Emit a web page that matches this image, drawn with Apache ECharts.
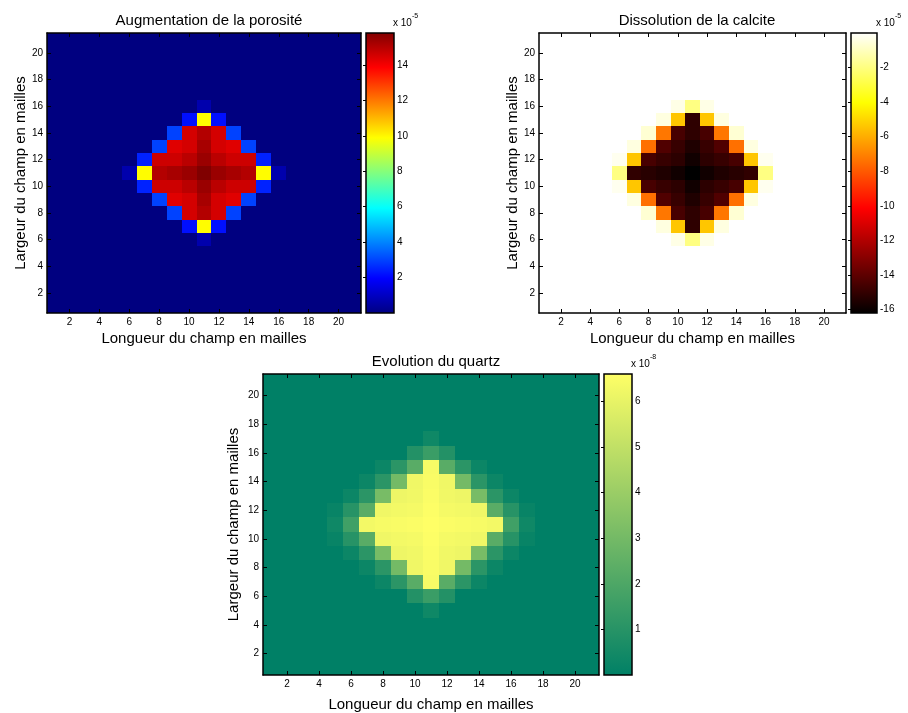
<!DOCTYPE html>
<html>
<head>
<meta charset="utf-8">
<script src="https://cdn.jsdelivr.net/npm/echarts@6/dist/echarts.min.js"></script>
<style>
html,body{margin:0;padding:0;background:#fff;}
#chart{width:908px;height:713px;}
</style>
</head>
<body>
<div id="chart"></div>
<script>
// ---------- data ----------
const cellLabels = ['1','2','3','4','5','6','7','8','9','10','11','12','13','14','15','16','17','18','19','20','21'];

// Augmentation de la porosité (x 1e-5), rows from y=21 (top) to y=1 (bottom)
const porosityRows = [
 [0,0,0,0,0,0,0,0,0,0,0,0,0,0,0,0,0,0,0,0,0],
 [0,0,0,0,0,0,0,0,0,0,0,0,0,0,0,0,0,0,0,0,0],
 [0,0,0,0,0,0,0,0,0,0,0,0,0,0,0,0,0,0,0,0,0],
 [0,0,0,0,0,0,0,0,0,0,0,0,0,0,0,0,0,0,0,0,0],
 [0,0,0,0,0,0,0,0,0,0,0,0,0,0,0,0,0,0,0,0,0],
 [0,0,0,0,0,0,0,0,0,0,0.7,0,0,0,0,0,0,0,0,0,0],
 [0,0,0,0,0,0,0,0,0,2.2,9.9,2.2,0,0,0,0,0,0,0,0,0],
 [0,0,0,0,0,0,0,0,3.0,14.5,15.0,14.5,3.0,0,0,0,0,0,0,0,0],
 [0,0,0,0,0,0,0,3.0,14.3,14.5,15.2,14.5,14.3,3.0,0,0,0,0,0,0,0],
 [0,0,0,0,0,0,2.5,14.6,14.6,14.9,15.4,14.9,14.6,14.6,2.5,0,0,0,0,0,0],
 [0,0,0,0,0,0.7,9.9,15.0,15.2,15.4,15.8,15.4,15.2,15.0,9.9,0.7,0,0,0,0,0],
 [0,0,0,0,0,0,2.5,14.6,14.6,14.9,15.4,14.9,14.6,14.6,2.5,0,0,0,0,0,0],
 [0,0,0,0,0,0,0,3.0,14.3,14.5,15.2,14.5,14.3,3.0,0,0,0,0,0,0,0],
 [0,0,0,0,0,0,0,0,3.0,14.5,15.0,14.5,3.0,0,0,0,0,0,0,0,0],
 [0,0,0,0,0,0,0,0,0,2.2,9.9,2.2,0,0,0,0,0,0,0,0,0],
 [0,0,0,0,0,0,0,0,0,0,0.7,0,0,0,0,0,0,0,0,0,0],
 [0,0,0,0,0,0,0,0,0,0,0,0,0,0,0,0,0,0,0,0,0],
 [0,0,0,0,0,0,0,0,0,0,0,0,0,0,0,0,0,0,0,0,0],
 [0,0,0,0,0,0,0,0,0,0,0,0,0,0,0,0,0,0,0,0,0],
 [0,0,0,0,0,0,0,0,0,0,0,0,0,0,0,0,0,0,0,0,0],
 [0,0,0,0,0,0,0,0,0,0,0,0,0,0,0,0,0,0,0,0,0]
];

// Dissolution de la calcite (x 1e-5)
const calciteRows = [
 [0,0,0,0,0,0,0,0,0,0,0,0,0,0,0,0,0,0,0,0,0],
 [0,0,0,0,0,0,0,0,0,0,0,0,0,0,0,0,0,0,0,0,0],
 [0,0,0,0,0,0,0,0,0,0,0,0,0,0,0,0,0,0,0,0,0],
 [0,0,0,0,0,0,0,0,0,0,0,0,0,0,0,0,0,0,0,0,0],
 [0,0,0,0,0,0,0,0,0,0,0,0,0,0,0,0,0,0,0,0,0],
 [0,0,0,0,0,0,0,0,0,-0.4,-2.0,-0.4,0,0,0,0,0,0,0,0,0],
 [0,0,0,0,0,0,0,0,-0.5,-5.4,-15.1,-5.4,-0.5,0,0,0,0,0,0,0,0],
 [0,0,0,0,0,0,0,-0.7,-7.3,-14.5,-15.1,-14.5,-7.3,-0.7,0,0,0,0,0,0,0],
 [0,0,0,0,0,0,-0.5,-7.45,-14.3,-14.9,-15.45,-14.9,-14.3,-7.45,-0.5,0,0,0,0,0,0],
 [0,0,0,0,0,-0.25,-5.4,-14.5,-14.9,-15.15,-15.8,-15.15,-14.9,-14.5,-5.4,-0.25,0,0,0,0,0],
 [0,0,0,0,0,-2.0,-15.05,-15.25,-15.45,-15.8,-16.2,-15.8,-15.45,-15.25,-15.05,-2.0,0,0,0,0,0],
 [0,0,0,0,0,-0.25,-5.4,-14.5,-14.9,-15.15,-15.8,-15.15,-14.9,-14.5,-5.4,-0.25,0,0,0,0,0],
 [0,0,0,0,0,0,-0.5,-7.45,-14.3,-14.9,-15.45,-14.9,-14.3,-7.45,-0.5,0,0,0,0,0,0],
 [0,0,0,0,0,0,0,-0.7,-7.3,-14.5,-15.1,-14.5,-7.3,-0.7,0,0,0,0,0,0,0],
 [0,0,0,0,0,0,0,0,-0.5,-5.4,-15.1,-5.4,-0.5,0,0,0,0,0,0,0,0],
 [0,0,0,0,0,0,0,0,0,-0.4,-2.0,-0.4,0,0,0,0,0,0,0,0,0],
 [0,0,0,0,0,0,0,0,0,0,0,0,0,0,0,0,0,0,0,0,0],
 [0,0,0,0,0,0,0,0,0,0,0,0,0,0,0,0,0,0,0,0,0],
 [0,0,0,0,0,0,0,0,0,0,0,0,0,0,0,0,0,0,0,0,0],
 [0,0,0,0,0,0,0,0,0,0,0,0,0,0,0,0,0,0,0,0,0],
 [0,0,0,0,0,0,0,0,0,0,0,0,0,0,0,0,0,0,0,0,0]
];

// Evolution du quartz (x 1e-8)
const quartzRows = [
 [0,0,0,0,0,0,0,0,0,0,0,0,0,0,0,0,0,0,0,0,0],
 [0,0,0,0,0,0,0,0,0,0,0,0,0,0,0,0,0,0,0,0,0],
 [0,0,0,0,0,0,0,0,0,0,0,0,0,0,0,0,0,0,0,0,0],
 [0,0,0,0,0,0,0,0,0,0,0,0,0,0,0,0,0,0,0,0,0],
 [0,0,0,0,0,0,0,0,0,0,0.4,0,0,0,0,0,0,0,0,0,0],
 [0,0,0,0,0,0,0,0,0,0.9,1.5,0.9,0,0,0,0,0,0,0,0,0],
 [0,0,0,0,0,0,0,0.3,1.1,2.3,6.4,2.3,1.1,0.3,0,0,0,0,0,0,0],
 [0,0,0,0,0,0,0.3,1.1,3.0,6.2,6.45,6.2,3.0,1.1,0.3,0,0,0,0,0,0],
 [0,0,0,0,0,0.3,1.1,3.1,6.15,6.25,6.5,6.25,6.15,3.1,1.1,0.3,0,0,0,0,0],
 [0,0,0,0,0.2,1.0,2.3,6.2,6.3,6.35,6.55,6.35,6.3,6.2,2.3,1.0,0.2,0,0,0,0],
 [0,0,0,0,0.4,1.65,6.3,6.4,6.45,6.5,6.6,6.5,6.45,6.4,6.3,1.65,0.4,0,0,0,0],
 [0,0,0,0,0.2,1.0,2.3,6.2,6.3,6.35,6.55,6.35,6.3,6.2,2.3,1.0,0.2,0,0,0,0],
 [0,0,0,0,0,0.3,1.1,3.1,6.15,6.25,6.5,6.25,6.15,3.1,1.1,0.3,0,0,0,0,0],
 [0,0,0,0,0,0,0.3,1.1,3.0,6.2,6.45,6.2,3.0,1.1,0.3,0,0,0,0,0,0],
 [0,0,0,0,0,0,0,0.3,1.1,2.3,6.4,2.3,1.1,0.3,0,0,0,0,0,0,0],
 [0,0,0,0,0,0,0,0,0,0.9,1.5,0.9,0,0,0,0,0,0,0,0,0],
 [0,0,0,0,0,0,0,0,0,0,0.4,0,0,0,0,0,0,0,0,0,0],
 [0,0,0,0,0,0,0,0,0,0,0,0,0,0,0,0,0,0,0,0,0],
 [0,0,0,0,0,0,0,0,0,0,0,0,0,0,0,0,0,0,0,0,0],
 [0,0,0,0,0,0,0,0,0,0,0,0,0,0,0,0,0,0,0,0,0],
 [0,0,0,0,0,0,0,0,0,0,0,0,0,0,0,0,0,0,0,0,0]
];

// colour scale ranges and colourbar tick labels
const porosityRange = [0, 15.8];
const calciteRange = [-16.2, 0];
const quartzRange = [0, 6.6];
const porosityTicks = [2, 4, 6, 8, 10, 12, 14];
const calciteTicks = [-16, -14, -12, -10, -8, -6, -4, -2];
const quartzTicks = [1, 2, 3, 4, 5, 6];

const titles = ['Augmentation de la porosité', 'Dissolution de la calcite', 'Evolution du quartz'];
const xName = 'Longueur du champ en mailles';
const yName = 'Largeur du champ en mailles';
const exponents = ['-5', '-5', '-8'];

// colormaps (MATLAB jet, hot, summer)
const jetColors = ['#000080','#0000ff','#0080ff','#00ffff','#80ff80','#ffff00','#ff8000','#ff0000','#800000'];
const hotColors = ['#000000','#550000','#aa0000','#ff0000','#ff5500','#ffaa00','#ffff00','#ffff80','#ffffff'];
const summerColors = ['#008066','#ffff66'];

// ---------- build ----------
const FONT = "'Liberation Sans', Arial, Helvetica, sans-serif";

function toCells(rows) {
  const out = [];
  rows.forEach((row, r) => row.forEach((v, c) => out.push([c, rows.length - 1 - r, v])));
  return out;
}
const evenOnly = (i) => (i + 1) % 2 === 0;

const heatGrids = [
  {left: 47, top: 33, width: 314, height: 280},
  {left: 539, top: 33, width: 307, height: 280},
  {left: 263, top: 374, width: 336, height: 301}
];
const cbGrids = [
  {left: 366, top: 33, width: 28, height: 280},
  {left: 851, top: 33, width: 26, height: 280},
  {left: 604, top: 374, width: 28, height: 301}
];
const xNameGaps = [18, 18, 22];
const yNameGaps = [18, 18, 22];

const grid = [];
heatGrids.concat(cbGrids).forEach(g => grid.push(Object.assign({outerBoundsMode: 'none', containLabel: false}, g)));

const lineStyle = {color: '#000', width: 1.5};
const tickStyle = {color: '#000', width: 1};
const xAxis = [], yAxis = [];
heatGrids.forEach((g, i) => {
  const common = {
    type: 'category', gridIndex: i, data: cellLabels, z: 10,
    axisLine: {show: true, onZero: false, lineStyle},
    axisTick: {show: true, inside: true, length: 4, alignWithLabel: true, interval: evenOnly, lineStyle: tickStyle},
    splitLine: {show: false}
  };
  xAxis.push(Object.assign({}, common, {
    position: 'bottom',
    axisLabel: {show: true, interval: evenOnly, fontSize: 10, color: '#000', margin: 4, fontFamily: FONT},
    name: xName, nameLocation: 'middle', nameGap: xNameGaps[i],
    nameTextStyle: {fontSize: 15, color: '#000', fontFamily: FONT}
  }));
  xAxis.push(Object.assign({}, common, {position: 'top', axisLabel: {show: false}}));
  yAxis.push(Object.assign({}, common, {
    position: 'left',
    axisLabel: {show: true, interval: evenOnly, fontSize: 10, color: '#000', margin: 4, fontFamily: FONT},
    name: yName, nameLocation: 'middle', nameGap: yNameGaps[i], nameRotate: 90,
    nameTextStyle: {fontSize: 15, color: '#000', fontFamily: FONT}
  }));
  yAxis.push(Object.assign({}, common, {position: 'right', axisLabel: {show: false}}));
});

const ranges = [porosityRange, calciteRange, quartzRange];
const tickSets = [porosityTicks, calciteTicks, quartzTicks];
const cmaps = [jetColors, hotColors, summerColors];

cbGrids.forEach((g, i) => {
  xAxis.push({type: 'value', gridIndex: 3 + i, min: 0, max: 1, show: false});
  yAxis.push({
    type: 'value', gridIndex: 3 + i, min: ranges[i][0], max: ranges[i][1], position: 'right', z: 10,
    axisLine: {show: false},
    splitLine: {show: false},
    axisTick: {show: true, inside: true, length: 3, lineStyle: tickStyle, customValues: tickSets[i]},
    axisLabel: {show: true, fontSize: 10, color: '#000', margin: 3, fontFamily: FONT, customValues: tickSets[i]}
  });
});

// cells: one rectangle per grid cell, pixel-aligned through the axis scales
function cellRenderer(params, api) {
  const c = api.coord([api.value(0), api.value(1)]);
  const s = api.size([1, 1]);
  const x0 = Math.round(c[0] - s[0] / 2), x1 = Math.round(c[0] + s[0] / 2);
  const y0 = Math.round(c[1] - s[1] / 2), y1 = Math.round(c[1] + s[1] / 2);
  return {type: 'rect', shape: {x: x0, y: y0, width: x1 - x0, height: y1 - y0},
          style: {fill: api.visual('color')}};
}
const series = [porosityRows, calciteRows, quartzRows].map((rows, i) => ({
  type: 'custom', xAxisIndex: 2 * i, yAxisIndex: 2 * i,
  data: toCells(rows), silent: true,
  encode: {x: 0, y: 1},
  renderItem: cellRenderer
}));

function colorbarRenderer(colors) {
  return function (params, api) {
    const p0 = api.coord([api.value(0), api.value(3)]);
    const p1 = api.coord([api.value(2), api.value(1)]);
    const stops = colors.map((c, k) => ({offset: k / (colors.length - 1), color: c}));
    return {
      type: 'rect',
      shape: {x: p0[0], y: p0[1], width: p1[0] - p0[0], height: p1[1] - p0[1]},
      style: {fill: new echarts.graphic.LinearGradient(0, 1, 0, 0, stops), stroke: '#000', lineWidth: 1.5}
    };
  };
}
cbGrids.forEach((g, i) => {
  series.push({
    type: 'custom', xAxisIndex: 6 + i, yAxisIndex: 6 + i, silent: true,
    data: [[0, ranges[i][0], 1, ranges[i][1]]],
    encode: {x: [0, 2], y: [1, 3]},
    renderItem: colorbarRenderer(cmaps[i])
  });
});

const visualMap = cmaps.map((colors, i) => ({
  type: 'continuous', show: false, seriesIndex: i, dimension: 2,
  min: ranges[i][0], max: ranges[i][1], inRange: {color: colors}
}));

const titleCenters = [204, 692, 431];
const titleTops = [8, 8, 349];
const title = titles.map((t, i) => ({
  text: t, left: titleCenters[i], top: titleTops[i], textAlign: 'center',
  textStyle: {fontSize: 15, fontWeight: 'normal', color: '#000', fontFamily: FONT}
}));

const graphic = [];
cbGrids.forEach((g, i) => {
  const x0 = g.left + g.width;
  graphic.push({type: 'text', left: x0 - 1, top: g.top - 15,
    style: {text: 'x 10', fontSize: 10, fill: '#000', fontFamily: FONT}});
  graphic.push({type: 'text', left: x0 + 18, top: g.top - 20,
    style: {text: exponents[i], fontSize: 7, fill: '#000', fontFamily: FONT}});
});

const chart = echarts.init(document.getElementById('chart'), null, {renderer: 'canvas'});
chart.setOption({
  animation: false,
  backgroundColor: '#fff',
  textStyle: {fontFamily: FONT},
  title, grid, xAxis, yAxis, visualMap, series, graphic
});
</script>
</body>
</html>
